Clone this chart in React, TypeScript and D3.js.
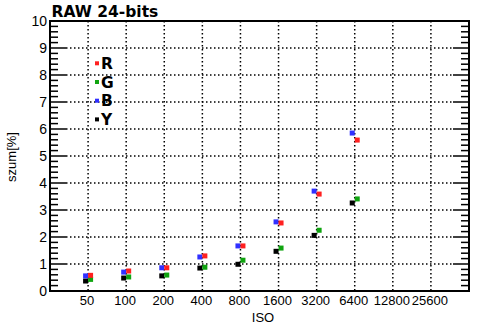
import * as d3 from "d3";

const isoLabels = ["50", "100", "200", "400", "800", "1600", "3200", "6400", "12800", "25600"];
const valuesR = [0.58, 0.74, 0.86, 1.3, 1.67, 2.52, 3.59, 5.59];
const valuesG = [0.43, 0.52, 0.59, 0.88, 1.14, 1.59, 2.25, 3.41];
const valuesB = [0.56, 0.7, 0.86, 1.26, 1.67, 2.56, 3.7, 5.85];
const valuesY = [0.37, 0.48, 0.56, 0.85, 0.99, 1.47, 2.06, 3.26];
const yTicks = [0, 1, 2, 3, 4, 5, 6, 7, 8, 9, 10];

const series = [
  { name: "R", color: "#ff2020", values: valuesR, dx: 2.5 },
  { name: "G", color: "#10a410", values: valuesG, dx: 2.5 },
  { name: "B", color: "#3030ff", values: valuesB, dx: -2.5 },
  { name: "Y", color: "#000000", values: valuesY, dx: -2.5 },
];

const W = 494;
const H = 331;
const left = 50;
const right = 469;
const top = 21;
const bottom = 291;
const sq = 5;

export default function App() {
  const x = d3.scalePoint<string>().domain(isoLabels).range([left, right]).padding(1);
  const y = d3.scaleLinear().domain([0, 10]).range([bottom, top]);
  const minor = d3.range(0, 10.01, 0.2).filter((v) => Math.abs(v - Math.round(v)) > 0.01);
  const tickFont = "Liberation Sans, Arial, sans-serif";

  // draw order: Y, G, B, R so R/B sit on top
  const drawOrder = [series[3], series[1], series[2], series[0]];

  return (
    <svg width={W} height={H} style={{ position: "absolute", left: 0, top: 0, background: "#fff" }}>
      <rect width={W} height={H} fill="#fff" />
      <text x={51.5} y={16.5} fontFamily="DejaVu Sans" fontWeight="bold" fontSize={15.5}>
        RAW 24-bits
      </text>

      {/* horizontal grid */}
      {yTicks.slice(1, -1).map((t) => (
        <line key={"hg" + t} x1={left + 16} x2={right - 16} y1={y(t)} y2={y(t)}
          stroke="#000" strokeWidth={1.5} strokeDasharray="1.5,2.5" />
      ))}
      {/* vertical grid */}
      {isoLabels.map((l) => (
        <line key={"vg" + l} x1={x(l)} x2={x(l)} y1={top} y2={bottom}
          stroke="#000" strokeWidth={1.5} strokeDasharray="1.5,2.5" />
      ))}

      {/* y ticks both sides */}
      {yTicks.map((t) => (
        <g key={"mt" + t}>
          <line x1={left} x2={left + 16} y1={y(t)} y2={y(t)} stroke="#000" strokeWidth={1.5} />
          <line x1={right - 16} x2={right} y1={y(t)} y2={y(t)} stroke="#000" strokeWidth={1.5} />
        </g>
      ))}
      {minor.map((t) => (
        <g key={"mn" + t.toFixed(1)}>
          <line x1={left} x2={left + 8} y1={y(t)} y2={y(t)} stroke="#000" strokeWidth={1.5} />
          <line x1={right - 8} x2={right} y1={y(t)} y2={y(t)} stroke="#000" strokeWidth={1.5} />
        </g>
      ))}

      <rect x={left} y={top} width={right - left} height={bottom - top} fill="none" stroke="#000" strokeWidth={2} />

      {yTicks.map((t) => (
        <text key={"yl" + t} x={left - 3} y={y(t) + 5} textAnchor="end" fontFamily={tickFont} fontSize={14}>
          {t}
        </text>
      ))}
      {isoLabels.map((l) => (
        <text key={"xl" + l} x={(x(l) ?? 0) - 1} y={304.5} textAnchor="middle" fontFamily={tickFont} fontSize={13}>
          {l}
        </text>
      ))}
      <text x={263} y={322} textAnchor="middle" fontFamily={tickFont} fontSize={13}>ISO</text>
      <text transform={`translate(16,157) rotate(-90)`} textAnchor="middle" fontFamily={tickFont} fontSize={13}>
        szum[%]
      </text>

      {drawOrder.map((s) =>
        s.values.map((v, i) => (
          <rect key={s.name + i} x={(x(isoLabels[i]) ?? 0) + s.dx - sq / 2} y={y(v) - sq / 2}
            width={sq} height={sq} fill={s.color} />
        ))
      )}

      {/* legend */}
      {series.map((s, i) => (
        <g key={"lg" + s.name} transform={`translate(95,${63.3 + i * 18.7})`}>
          <rect x={0} y={-2} width={4} height={4} fill={s.color} />
          <text x={6} y={5.5} fontFamily="DejaVu Sans" fontWeight="bold" fontSize={15.5}>
            {s.name}
          </text>
        </g>
      ))}
    </svg>
  );
}
